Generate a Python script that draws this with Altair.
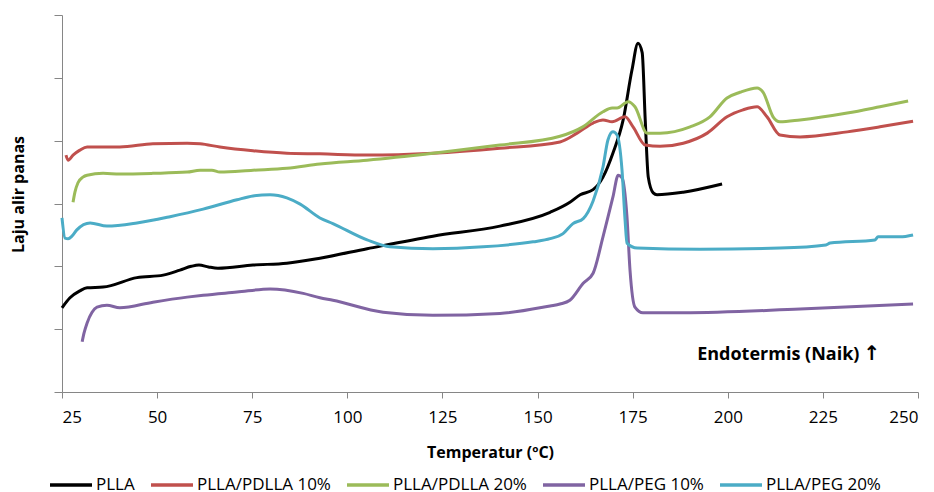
import altair as alt
import pandas as pd

series_names = ["PLLA", "PLLA/PDLLA 10%", "PLLA/PDLLA 20%", "PLLA/PEG 10%", "PLLA/PEG 20%"]
series_colors = ["#000000", "#C0504D", "#9BBB59", "#8064A2", "#4BACC6"]

plla_t = [25.0, 27.1, 29.7, 31.6, 35.8, 44.7, 51.6, 56.0, 59.0, 61.0, 63.5, 66.0, 75.2, 84.1, 92.8, 105.2, 122.5, 140.1,
          153.3, 158.5, 161.2, 164.6, 167.2, 169.8, 172.5, 174.8, 176.4, 177.5, 178.3, 179.1, 180.4, 181.4, 188.3, 198.5]
plla_v = [1.34, 1.50, 1.61, 1.66, 1.67, 1.82, 1.86, 1.94, 2.00, 2.02, 1.99, 1.97, 2.02, 2.05, 2.13, 2.28, 2.48, 2.64,
          2.86, 3.02, 3.14, 3.22, 3.42, 3.80, 4.33, 5.12, 5.55, 5.40, 4.33, 3.42, 3.17, 3.14, 3.18, 3.31]

pdlla10_t = [26.05, 26.6, 27.9, 29.7, 31.6, 40.2, 48.9, 57.9, 61.3, 66.5, 75.2, 84.1, 92.8, 105.2, 122.5, 140.1,
             155.9, 160.4, 164.6, 167.2, 169.6, 173.0, 175.1, 178.3, 182.2, 188.3, 194.6, 199.8, 204.0, 207.7,
             210.3, 213.7, 219.0, 231.4, 240.0, 248.7]
pdlla10_v = [3.77, 3.69, 3.77, 3.85, 3.90, 3.90, 3.95, 3.96, 3.95, 3.90, 3.84, 3.80, 3.79, 3.77, 3.80, 3.88,
             3.98, 4.12, 4.28, 4.33, 4.30, 4.38, 4.22, 3.93, 3.91, 3.96, 4.12, 4.38, 4.49, 4.54,
             4.38, 4.09, 4.06, 4.14, 4.22, 4.31]

pdlla20_t = [27.9, 28.4, 29.2, 30.5, 31.6, 35.8, 40.2, 48.9, 57.9, 61.3, 64.4, 66.5, 75.2, 84.1, 92.8, 105.2,
             122.5, 140.1, 155.9, 161.9, 167.2, 169.6, 170.9, 173.8, 175.6, 178.8, 182.2, 190.1, 195.3, 199.8,
             203.2, 207.7, 209.3, 211.9, 213.7, 219.0, 231.4, 240.0, 247.4]
pdlla20_v = [3.02, 3.18, 3.33, 3.42, 3.45, 3.48, 3.47, 3.48, 3.50, 3.53, 3.53, 3.50, 3.53, 3.56, 3.63, 3.69,
             3.80, 3.93, 4.07, 4.22, 4.46, 4.52, 4.52, 4.62, 4.54, 4.12, 4.12, 4.22, 4.38, 4.68,
             4.77, 4.84, 4.77, 4.38, 4.30, 4.33, 4.44, 4.54, 4.63]

peg10_t = [30.3, 30.8, 31.6, 32.9, 34.2, 36.8, 40.2, 48.9, 57.9, 62.1, 71.0, 79.7, 88.4, 92.8, 96.2, 109.4,
           122.5, 140.1, 153.3, 155.9, 158.5, 162.0, 164.6, 167.2, 169.8, 171.2, 172.2, 173.5, 174.3, 175.6,
           177.7, 188.3, 219.0, 248.7]
peg10_v = [0.80, 0.94, 1.10, 1.27, 1.35, 1.38, 1.34, 1.43, 1.51, 1.54, 1.59, 1.64, 1.57, 1.50, 1.46, 1.27,
           1.22, 1.25, 1.37, 1.40, 1.46, 1.73, 1.89, 2.47, 3.10, 3.45, 3.41, 2.79, 1.94, 1.35,
           1.26, 1.26, 1.32, 1.40]

peg20_t = [25.0, 25.8, 26.6, 27.6, 28.9, 32.4, 36.8, 44.7, 53.4, 62.1, 71.0, 75.2, 79.7, 84.1, 87.6, 92.8,
           96.2, 105.2, 111.2, 122.5, 135.7, 148.8, 153.3, 156.7, 159.3, 162.0, 164.6, 167.2, 168.5, 169.8,
           170.9, 172.2, 173.0, 173.5, 176.2, 192.7, 213.7, 225.8, 226.9, 238.7, 239.5, 245.3, 248.7]
peg20_v = [2.77, 2.45, 2.44, 2.48, 2.58, 2.69, 2.64, 2.69, 2.79, 2.91, 3.06, 3.12, 3.14, 3.09, 2.99, 2.77,
           2.68, 2.42, 2.31, 2.28, 2.31, 2.39, 2.44, 2.52, 2.68, 2.76, 3.04, 3.58, 4.01, 4.14,
           4.09, 3.53, 2.74, 2.37, 2.29, 2.27, 2.29, 2.34, 2.37, 2.42, 2.47, 2.47, 2.50]

x_ticks = [25, 50, 75, 100, 125, 150, 175, 200, 225, 250]
y_ticks = [0, 1, 2, 3, 4, 5, 6]

annot_text = ["Endotermis (Naik)"]
annot_x = [234.6]
annot_y = [0.59]
arrow_text = ["\u2191"]
arrow_x = [237.9]
arrow_y = [0.60]

rows = []
for name, ts, vs in zip(series_names,
                        [plla_t, pdlla10_t, pdlla20_t, peg10_t, peg20_t],
                        [plla_v, pdlla10_v, pdlla20_v, peg10_v, peg20_v]):
    for t, v in zip(ts, vs):
        rows.append({"series": name, "temp": t, "val": v})
df = pd.DataFrame(rows)
ann = pd.DataFrame({"text": annot_text, "temp": annot_x, "val": annot_y})
arr = pd.DataFrame({"text": arrow_text, "temp": arrow_x, "val": arrow_y})

FONT = "Open Sans"
GRAY = "#868686"

x_enc = alt.X("temp:Q", scale=alt.Scale(domain=[25, 250], nice=False, zero=False),
              axis=alt.Axis(values=x_ticks, title="Temperatur (\u00baC)", grid=False,
                            tickSize=6, labelPadding=11, labelFontSize=17, labelFont=FONT,
                            labelColor="#000000", domainColor=GRAY, tickColor=GRAY,
                            titleFont=FONT, titleFontSize=16, titleFontWeight="bold",
                            titleColor="#000000", titleY=60, titleBaseline="middle"))
y_enc = alt.Y("val:Q", scale=alt.Scale(domain=[0, 6], nice=False, zero=False),
              axis=alt.Axis(values=y_ticks, labels=False, title="Laju alir panas", grid=False,
                            tickSize=8, domainColor=GRAY, tickColor=GRAY,
                            titleFont=FONT, titleFontSize=16, titleFontWeight="bold",
                            titleColor="#000000", titleX=-44, titleY=179,
                            titleAlign="center", titleBaseline="middle", titleAngle=-90))

lines = alt.Chart(df).mark_line(interpolate="monotone", strokeWidth=3).encode(
    x=x_enc,
    y=y_enc,
    color=alt.Color("series:N",
                    scale=alt.Scale(domain=series_names, range=series_colors),
                    sort=series_names,
                    legend=alt.Legend(orient="none", legendX=-14, legendY=447,
                                      direction="horizontal", title=None,
                                      symbolType="stroke", symbolSize=1764,
                                      symbolStrokeWidth=3.5, labelFontSize=17,
                                      labelFont=FONT, labelColor="#000000", labelLimit=300,
                                      labelOffset=2, columnPadding=9)),
    order="temp:Q",
    detail="series:N",
)

text = alt.Chart(ann).mark_text(font=FONT, fontSize=18, fontWeight="bold", color="#000000",
                                align="right", baseline="middle").encode(
    x=alt.X("temp:Q"), y=alt.Y("val:Q"), text="text:N")

arrow = alt.Chart(arr).mark_text(font="DejaVu Sans", fontSize=20, fontWeight="bold", color="#000000",
                                 align="center", baseline="middle").encode(
    x=alt.X("temp:Q"), y=alt.Y("val:Q"), text="text:N")

chart = alt.layer(lines, text, arrow).properties(
    width=856, height=377,
    autosize=alt.AutoSizeParams(type="none"),
    padding={"left": 62, "top": 15, "right": 16, "bottom": 100},
    background="white",
).configure_view(stroke=None)

chart.save("out.html", embed_options={"renderer": "svg", "actions": False})
